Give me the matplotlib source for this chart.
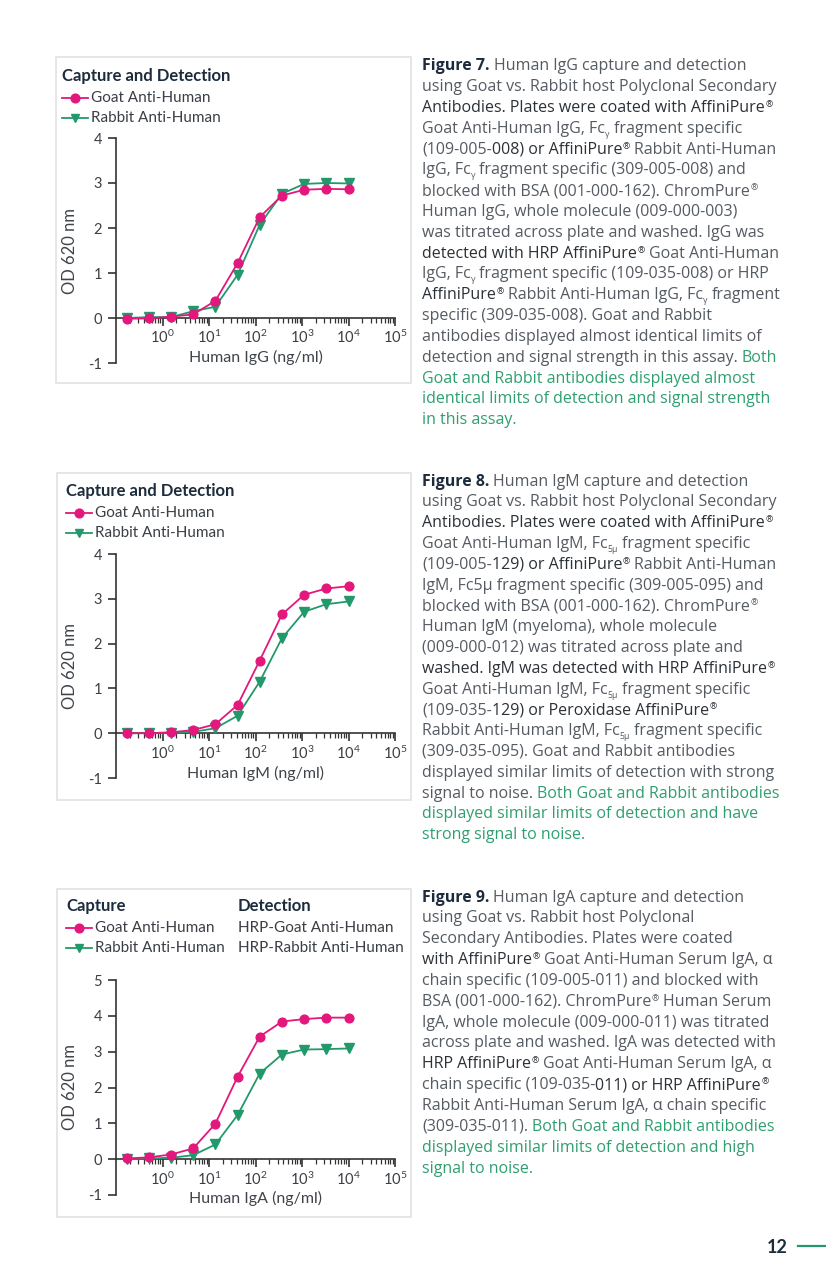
import numpy as np
import matplotlib
matplotlib.use('Agg')
import matplotlib.pyplot as plt
from matplotlib.patches import Rectangle
from matplotlib.lines import Line2D
from matplotlib.ticker import FixedLocator, LogLocator, NullFormatter

# page size in pixels
W, H = 826, 1276

plt.rcParams['font.family'] = ['Lato', 'DejaVu Sans']
plt.rcParams['mathtext.fontset'] = 'custom'
plt.rcParams['mathtext.rm'] = 'Lato'
plt.rcParams['mathtext.default'] = 'regular'
plt.rcParams['axes.unicode_minus'] = False

MAG = '#e3177c'
GRN = '#23996b'
NAVY = '#1d2c3c'
GREY = '#555b62'
DARK = '#2c3137'
TGREEN = '#2f9f70'
AXC = '#333333'

# data (ng/ml, 3-fold dilution series)
conc = [0.169, 0.508, 1.52, 4.57, 13.7, 41.2, 123, 370, 1111, 3333, 10000]

igg_goat = [-0.015, -0.01, 0.03, 0.08, 0.38, 1.22, 2.24, 2.72, 2.85, 2.87, 2.86]
igg_rabbit = [0.0, 0.02, 0.02, 0.15, 0.25, 0.96, 2.07, 2.76, 2.98, 3.0, 2.99]

igm_goat = [0.0, 0.0, 0.02, 0.07, 0.2, 0.63, 1.62, 2.65, 3.09, 3.23, 3.28]
igm_rabbit = [0.0, 0.0, 0.01, 0.03, 0.11, 0.39, 1.15, 2.12, 2.71, 2.88, 2.94]

iga_goat = [0.02, 0.05, 0.13, 0.3, 0.99, 2.3, 3.42, 3.84, 3.91, 3.95, 3.95]
iga_rabbit = [0.01, 0.02, 0.04, 0.11, 0.41, 1.23, 2.39, 2.92, 3.06, 3.07, 3.09]

xticks = [1, 10, 100, 1000, 10000, 100000]

fig = plt.figure(figsize=(W / 100, H / 100), dpi=100)
fig.patch.set_facecolor('white')


def fx(x):
    return x / W


def fy(y):
    return 1 - y / H


def panel(top, bottom, ymax, goat, rabbit, xlabel, xlab_y):
    left, right = 116, 395
    ax = fig.add_axes([fx(left), fy(bottom), (right - left) / W, (bottom - top) / H])
    ax.patch.set_alpha(0)
    ax.plot(conc, rabbit, color=GRN, marker='v', ms=6.5, lw=1.3, clip_on=False, zorder=3)
    ax.plot(conc, goat, color=MAG, marker='o', ms=6.3, lw=1.3, clip_on=False, zorder=4)
    ax.set_xscale('log')
    ax.set_xlim(0.1, 1e5)
    ax.set_ylim(-1, ymax)
    for s in ['top', 'right']:
        ax.spines[s].set_visible(False)
    ax.spines['bottom'].set_position(('data', 0))
    for s in ['bottom', 'left']:
        ax.spines[s].set_color(AXC)
        ax.spines[s].set_linewidth(1.2)
    ax.set_yticks(range(-1, ymax + 1))
    ax.xaxis.set_major_locator(FixedLocator(xticks))
    ax.xaxis.set_minor_locator(LogLocator(base=10, subs=np.arange(2, 10)))
    ax.xaxis.set_minor_formatter(NullFormatter())
    ax.tick_params(axis='both', which='major', direction='out', length=6, width=1.2,
                   color=AXC, labelcolor='#3a3f45', labelsize=10.5)
    ax.tick_params(axis='y', which='major', pad=4)
    ax.tick_params(axis='x', which='major', pad=2)
    ax.tick_params(axis='x', which='minor', direction='out', length=3.5, width=0.9, color=AXC)
    ax.set_xlabel(xlabel, fontsize=11.5, color='#3f444a')
    ax.xaxis.label.set_va('center')
    ax.xaxis.set_label_coords(0.5, (bottom - xlab_y) / (bottom - top))
    ax.set_ylabel('OD 620 nm', fontsize=12, color='#3f444a')
    ax.yaxis.label.set_va('center')
    ax.yaxis.set_label_coords((70 - left) / (right - left), 0.5)
    return ax


def legend_row(x0, y, color, marker, label, xt):
    fig.add_artist(Line2D([fx(x0), fx(x0 + 13), fx(x0 + 26)], [fy(y)] * 3,
                          color=color, lw=1.3, marker=marker, ms=6.3,
                          markevery=[1], transform=fig.transFigure))
    fig.text(fx(xt), fy(y), label, fontsize=11, color='#3a3f45', va='center', ha='left')


def box(l, t, r, b):
    fig.add_artist(Rectangle((fx(l), fy(b)), (r - l) / W, (b - t) / H,
                             transform=fig.transFigure, fill=False,
                             edgecolor='#e4e4e4', lw=1.3))


TSIZE = 12

# panel 1 - IgG
box(56, 57, 411, 383)
fig.text(fx(62), fy(76), 'Capture and Detection', fontsize=TSIZE, weight='bold',
         color=NAVY, va='center')
legend_row(62, 98, MAG, 'o', 'Goat Anti-Human', 91)
legend_row(62, 118, GRN, 'v', 'Rabbit Anti-Human', 91)
panel(138, 363, 4, igg_goat, igg_rabbit, 'Human IgG (ng/ml)', 357)

# panel 2 - IgM
box(57, 473, 411, 800)
fig.text(fx(66), fy(491), 'Capture and Detection', fontsize=TSIZE, weight='bold',
         color=NAVY, va='center')
legend_row(66, 513, MAG, 'o', 'Goat Anti-Human', 95)
legend_row(66, 533, GRN, 'v', 'Rabbit Anti-Human', 95)
panel(554, 778, 4, igm_goat, igm_rabbit, 'Human IgM (ng/ml)', 773)

# panel 3 - IgA
box(57, 889, 411, 1217)
fig.text(fx(66), fy(906), 'Capture', fontsize=TSIZE, weight='bold', color=NAVY, va='center')
fig.text(fx(238), fy(906), 'Detection', fontsize=TSIZE, weight='bold', color=NAVY, va='center')
legend_row(66, 928, MAG, 'o', 'Goat Anti-Human', 95)
legend_row(66, 948, GRN, 'v', 'Rabbit Anti-Human', 95)
fig.text(fx(238), fy(928), 'HRP-Goat Anti-Human', fontsize=11, color='#3a3f45', va='center')
fig.text(fx(238), fy(948), 'HRP-Rabbit Anti-Human', fontsize=11, color='#3a3f45', va='center')
panel(980, 1195, 5, iga_goat, iga_rabbit, 'Human IgA (ng/ml)', 1198)

# caption text, segments: (text, style)
fig7 = [
    [('Figure 7.', 'b'), (' Human IgG capture and detection', 'n')],
    [('using Goat vs. Rabbit host Polyclonal Secondary', 'n')],
    [('Antibodies. Plates were coated with AffiniPure®', 'd')],
    [('Goat Anti-Human IgG, Fc', 'n'), ('γ', 's'), (' fragment specific', 'n')],
    [('(109-005-', 'n'), ('008) or AffiniPure®', 'd'), (' Rabbit Anti-Human', 'n')],
    [('IgG, Fc', 'n'), ('γ', 's'), (' fragment specific (309-005-008) and', 'n')],
    [('blocked with BSA (001-000-162). ChromPure®', 'n')],
    [('Human IgG, whole molecule (009-000-003)', 'n')],
    [('was titrated across plate and washed. IgG was', 'n')],
    [('detected with HRP AffiniPure®', 'd'), (' Goat Anti-Human', 'n')],
    [('IgG, Fc', 'n'), ('γ', 's'), (' fragment specific (109-035-008) or HRP', 'n')],
    [('AffiniPure®', 'd'), (' Rabbit Anti-Human IgG, Fc', 'n'), ('γ', 's'), (' fragment', 'n')],
    [('specific (309-035-008). Goat and Rabbit', 'n')],
    [('antibodies displayed almost identical limits of', 'n')],
    [('detection and signal strength in this assay. ', 'n'), ('Both', 'g')],
    [('Goat and Rabbit antibodies displayed almost', 'g')],
    [('identical limits of detection and signal strength', 'g')],
    [('in this assay.', 'g')],
]

fig8 = [
    [('Figure 8.', 'b'), (' Human IgM capture and detection', 'n')],
    [('using Goat vs. Rabbit host Polyclonal Secondary', 'n')],
    [('Antibodies. Plates were coated with AffiniPure®', 'd')],
    [('Goat Anti-Human IgM, Fc', 'n'), ('5µ', 's'), (' fragment specific', 'n')],
    [('(109-005-', 'n'), ('129) or AffiniPure®', 'd'), (' Rabbit Anti-Human', 'n')],
    [('IgM, Fc5µ fragment specific (309-005-095) and', 'n')],
    [('blocked with BSA (001-000-162). ChromPure®', 'n')],
    [('Human IgM (myeloma), whole molecule', 'n')],
    [('(009-000-012) was titrated across plate and', 'n')],
    [('washed. IgM was detected with HRP AffiniPure®', 'd')],
    [('Goat Anti-Human IgM, Fc', 'n'), ('5µ', 's'), (' fragment specific', 'n')],
    [('(109-035-', 'n'), ('129) or Peroxidase AffiniPure®', 'd')],
    [('Rabbit Anti-Human IgM, Fc', 'n'), ('5µ', 's'), (' fragment specific', 'n')],
    [('(309-035-095). Goat and Rabbit antibodies', 'n')],
    [('displayed similar limits of detection with strong', 'n')],
    [('signal to noise. ', 'n'), ('Both Goat and Rabbit antibodies', 'g')],
    [('displayed similar limits of detection and have', 'g')],
    [('strong signal to noise.', 'g')],
]

fig9 = [
    [('Figure 9.', 'b'), (' Human IgA capture and detection', 'n')],
    [('using Goat vs. Rabbit host Polyclonal', 'n')],
    [('Secondary Antibodies. Plates were coated', 'n')],
    [('with AffiniPure®', 'd'), (' Goat Anti-Human Serum IgA, α', 'n')],
    [('chain specific (109-005-011) and blocked with', 'n')],
    [('BSA (001-000-162). ChromPure® Human Serum', 'n')],
    [('IgA, whole molecule (009-000-011) was titrated', 'n')],
    [('across plate and washed. IgA was detected with', 'n')],
    [('HRP AffiniPure®', 'd'), (' Goat Anti-Human Serum IgA, α', 'n')],
    [('chain specific (109-035-', 'n'), ('011) or HRP AffiniPure®', 'd')],
    [('Rabbit Anti-Human Serum IgA, α chain specific', 'n')],
    [('(309-035-011). ', 'n'), ('Both Goat and Rabbit antibodies', 'g')],
    [('displayed similar limits of detection and high', 'g')],
    [('signal to noise.', 'g')],
]

BODY = 11.5
BODY_FONT = ['Open Sans', 'DejaVu Sans']
styles = {
    'n': dict(color=GREY, weight='normal', size=BODY, dy=0),
    'd': dict(color=DARK, weight='normal', size=BODY, dy=0),
    'b': dict(color=NAVY, weight='bold', size=BODY, dy=0),
    'g': dict(color=TGREEN, weight='normal', size=BODY, dy=0),
    's': dict(color=GREY, weight='normal', size=BODY * 0.55, dy=4),
}

renderer = fig.canvas.get_renderer()
space_cache = {}


def space_w(size, weight):
    key = (size, weight)
    if key not in space_cache:
        a = fig.text(0, 0, 'a a', fontsize=size, weight=weight, family=BODY_FONT)
        b = fig.text(0, 0, 'aa', fontsize=size, weight=weight, family=BODY_FONT)
        space_cache[key] = (a.get_window_extent(renderer).width
                            - b.get_window_extent(renderer).width)
        a.remove()
        b.remove()
    return space_cache[key]


def put(x, y, txt, size, weight, color):
    # returns the new x after drawing txt at baseline y (pixels)
    lead = len(txt) - len(txt.lstrip(' '))
    trail = len(txt) - len(txt.rstrip(' '))
    core = txt.strip(' ')
    sw = space_w(size, weight)
    x += lead * sw
    if core:
        t = fig.text(fx(x), fy(y), core, fontsize=size, weight=weight, color=color,
                     family=BODY_FONT, ha='left', va='baseline')
        x += t.get_window_extent(renderer).width
    x += trail * sw
    return x


def paragraph(lines, x0, y0, step):
    for i, line in enumerate(lines):
        y = y0 + i * step
        x = x0
        for txt, st in line:
            s = styles[st]
            parts = txt.split('®')
            for j, p in enumerate(parts):
                if p:
                    x = put(x, y + s['dy'], p, s['size'], s['weight'], s['color'])
                if j < len(parts) - 1:
                    x = put(x + 0.5, y - 5, '®', BODY * 0.55, 'normal', s['color'])


paragraph(fig7, 422, 70.5, 20.8)
paragraph(fig8, 422, 485.5, 20.8)
paragraph(fig9, 422, 901.5, 20.85)

# page number
fig.text(fx(767), fy(1253), '12', fontsize=13, weight='bold', color=NAVY,
         ha='left', va='baseline')
fig.add_artist(Line2D([fx(798), fx(826)], [fy(1245.5)] * 2, color=GRN, lw=1.6,
                      transform=fig.transFigure))

fig.savefig('out.png', dpi=100, facecolor='white')
